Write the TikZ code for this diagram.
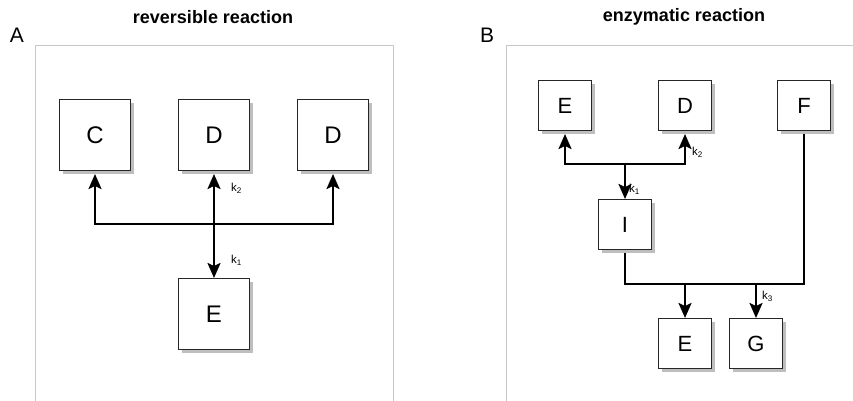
\documentclass[tikz,border=0pt]{standalone}
\usepackage{fontspec}
\setmainfont{Liberation Sans}
\usetikzlibrary{arrows.meta,shadows}
\definecolor{framegray}{HTML}{C8C8C8}
\definecolor{shadowgray}{HTML}{BEBEBE}
\tikzset{
  boxA/.style={draw=black!85, line width=1pt, fill=white, minimum width=71pt, minimum height=71pt, inner sep=0pt,
    drop shadow={shadow xshift=3.5pt, shadow yshift=-3.5pt, fill=shadowgray, opacity=1},
    font=\fontsize{24}{28}\selectfont},
  boxB/.style={draw=black!85, line width=1pt, fill=white, minimum width=53pt, minimum height=50pt, inner sep=0pt,
    drop shadow={shadow xshift=3.5pt, shadow yshift=-3.5pt, fill=shadowgray, opacity=1},
    font=\fontsize{22}{26}\selectfont},
  conn/.style={line width=2.2pt},
  headend/.style={-{Stealth[length=15pt,width=13pt,inset=3pt]}},
  headboth/.style={{Stealth[length=15pt,width=13pt,inset=3pt]}-{Stealth[length=15pt,width=13pt,inset=3pt]}},
  rate/.style={font=\fontsize{11.5}{13}\selectfont, inner sep=0pt, anchor=west},
  ttl/.style={font=\bfseries\fontsize{18}{20}\selectfont, inner sep=0pt},
  panel/.style={font=\fontsize{21}{24}\selectfont, inner sep=0pt},
  framebox/.style={draw=framegray, line width=1pt}
}
\begin{document}
\begin{tikzpicture}[x=1pt,y=-1pt]
\useasboundingbox (0,0) rectangle (853,400);
% frames
\draw[framebox] (35.5,405) -- (35.5,45.5) -- (393.5,45.5) -- (393.5,405);
\draw[framebox] (506.5,405) -- (506.5,45.5) -- (860,45.5);
% titles
\node[ttl] (tA) at (213,17) {reversible reaction};
\node[ttl] (tB) at (684,17) {enzymatic reaction};
\node[panel] (lA) at (17,35) {A};
\node[panel] (lB) at (487,35) {B};
% panel A
\node[boxA] (C) at (95,135) {C};
\node[boxA] (D) at (214,135) {D};
\node[boxA] (D2) at (333,135) {D};
\node[boxA] (E) at (214,314) {E};
\coordinate (jA) at (214,224);
\draw[conn,headend,shorten >=3pt] (jA -| C) -- (C.south);
\draw[conn,headend,shorten >=3pt] (jA -| D2) -- (D2.south);
\draw[conn,line cap=rect] (jA -| C) -- (jA -| D2);
\draw[conn,headboth,shorten <=3pt] (D.south) -- (E.north);
\node[rate] (k2A) at (231,188) {k\textsubscript{2}};
\node[rate] (k1A) at (231,260) {k\textsubscript{1}};
% panel B
\node[boxB] (Eb) at (565,105.5) {E};
\node[boxB] (Db) at (685,105.5) {D};
\node[boxB] (Fb) at (804,105.5) {F};
\node[boxB] (Ib) at (625,224.5) {I};
\node[boxB] (E2b) at (685,343.5) {E};
\node[boxB] (Gb) at (756,343.5) {G};
\coordinate (jB) at (625,164);
\coordinate (jC) at (625,284);
\draw[conn,headend,shorten >=3pt] (jB -| Eb) -- (Eb.south);
\draw[conn,headend,shorten >=3pt] (jB -| Db) -- (Db.south);
\draw[conn,line cap=rect] (jB -| Eb) -- (jB -| Db);
\draw[conn,headend] (jB) -- (Ib.north);
\draw[conn,shorten <=3pt] (Ib.south) -- (jC);
\draw[conn,line cap=rect] (jC) -- (jC -| Fb);
\draw[conn,shorten <=3pt] (Fb.south) -- (jC -| Fb);
\draw[conn,headend] (jC -| E2b) -- (E2b.north);
\draw[conn,headend] (jC -| Gb) -- (Gb.north);
\node[rate] (k2B) at (692,152) {k\textsubscript{2}};
\node[rate] (k1B) at (629,189) {k\textsubscript{1}};
\node[rate] (k3B) at (762,296) {k\textsubscript{3}};
\end{tikzpicture}
\end{document}
